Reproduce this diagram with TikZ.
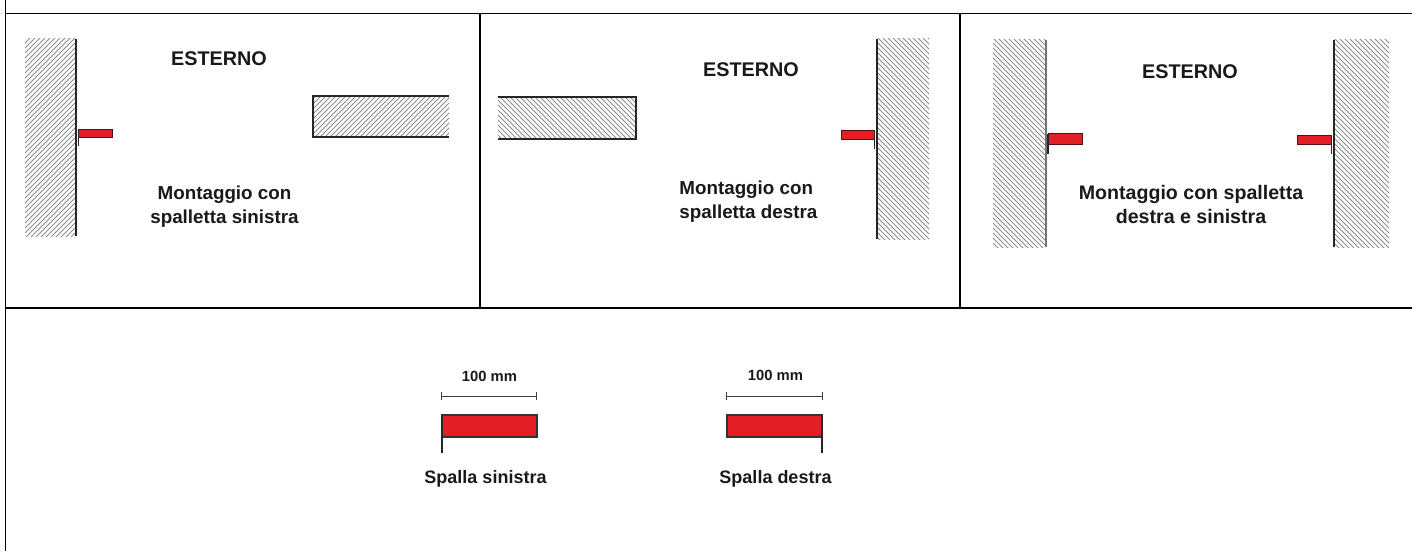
\documentclass[tikz,border=0pt]{standalone}
\usepackage{fontspec}
\setmainfont{Liberation Sans}
\definecolor{stripred}{HTML}{E41E26}
\tikzset{
  rule/.style={line width=0.95pt,black},
  hatchline/.style={line width=0.5pt,black!45},
  wall/.style={line width=0.6pt,black!85},
  strip/.style={draw=black!80,line width=0.6pt,fill=stripred},
  tinystrip/.style={draw=black!60!stripred,line width=0.35pt,fill=stripred},
  lab/.style={font=\bfseries\fontsize{9.4}{12}\selectfont,align=center,text=black!90,inner sep=0pt},
  widelab/.style={font=\bfseries\fontsize{9.8}{12}\selectfont,align=center,text=black!90,inner sep=0pt},
  title/.style={font=\bfseries\fontsize{9.9}{11}\selectfont,text=black!90,inner sep=0pt},
  small/.style={font=\bfseries\fontsize{7.4}{10}\selectfont,text=black!90,inner sep=0pt},
  caplab/.style={font=\bfseries\fontsize{9}{10}\selectfont,text=black!90,inner sep=0pt},
  dim/.style={line width=0.3pt,black!75}
}
\newcommand{\hatchNEup}[4]{%
  \begin{scope}
    \clip (#1,#2) rectangle (#3,#4);
    \foreach \k in {0,5,...,640}{
      \draw[hatchline] (#1-220+\k,#4+2) -- ++(240,-240);
    }
  \end{scope}}
\newcommand{\hatchNW}[4]{%
  \begin{scope}
    \clip (#1,#2) rectangle (#3,#4);
    \foreach \k in {0,5,...,640}{
      \draw[hatchline] (#1-220+\k,#2-2) -- ++(240,240);
    }
  \end{scope}}
\begin{document}
\begin{tikzpicture}[x=0.5pt,y=-0.5pt]
\useasboundingbox (0,0) rectangle (1412,551);
% table
\coordinate (tl) at (5.5,0); \coordinate (bl) at (5.5,551);
\coordinate (r1) at (5.5,13.5); \coordinate (r1e) at (1412,13.5);
\coordinate (r2) at (5.5,308); \coordinate (r2e) at (1412,308);
\coordinate (c1) at (480,13.5); \coordinate (c1e) at (480,308);
\coordinate (c2) at (960,13.5); \coordinate (c2e) at (960,308);
\draw[rule] (tl) -- (bl);
\draw[rule] (r1) -- (r1e);
\draw[rule] (r2) -- (r2e);
\draw[rule] (c1) -- (c1e);
\draw[rule] (c2) -- (c2e);
% panel 1
\hatchNEup{25}{39}{76}{236}
\draw[wall] (76,39) -- (76,236);
\hatchNEup{313}{96}{449}{137}
\draw[wall] (449,96) -- (313,96) -- (313,137) -- (449,137);
\draw[tinystrip] (78.5,129) rectangle (112,137);
\draw[wall] (78.5,129) -- (78.5,146);
\node[title] (e1) at (219,59) {ESTERNO};
\node[lab] (m1) at (224.5,207) {Montaggio con\\spalletta sinistra};
% panel 2
\hatchNW{877}{39}{929}{239}
\draw[wall] (877,39) -- (877,239);
\hatchNW{498}{97}{636}{139}
\draw[wall] (498,97) -- (636,97) -- (636,139) -- (498,139);
\draw[tinystrip] (841.5,130.5) rectangle (874.5,139);
\draw[wall] (874.5,130.5) -- (874.5,149);
\node[title] (e2) at (751,70) {ESTERNO};
\node[lab,align=left,anchor=west] (m2) at (679,202) {Montaggio con\\spalletta destra};
% panel 3
\hatchNW{993}{40}{1046}{247}
\draw[wall,black!55] (1046,40) -- (1046,247);
\hatchNW{1334}{40}{1389}{247}
\draw[wall] (1334,40) -- (1334,247);
\draw[tinystrip] (1048,133.5) rectangle (1082,144);
\draw[wall] (1048,133.5) -- (1048,154);
\draw[tinystrip] (1297.5,135) rectangle (1331.5,144);
\draw[wall] (1331.5,135) -- (1331.5,154);
\node[title] (e3) at (1190,72) {ESTERNO};
\node[widelab] (m3) at (1191,204) {Montaggio con spalletta\\destra e sinistra};
% legend
\draw[strip] (442,415) rectangle (537,437);
\draw[wall] (442,415) -- (442,453);
\draw[dim] (441.5,396) -- (536.5,396);
\draw[dim] (441.5,392) -- (441.5,400);
\draw[dim] (536.5,392) -- (536.5,400);
\node[small] (d1) at (489.5,376) {100 mm};
\node[caplab] (s1) at (485.5,479) {Spalla sinistra};
\draw[strip] (727,415) rectangle (822,437);
\draw[wall] (822,415) -- (822,453);
\draw[dim] (726,396) -- (822,396);
\draw[dim] (726,392) -- (726,400);
\draw[dim] (822,392) -- (822,400);
\node[small] (d2) at (775.5,375) {100 mm};
\node[caplab] (s2) at (775.5,479) {Spalla destra};
\end{tikzpicture}
\end{document}
